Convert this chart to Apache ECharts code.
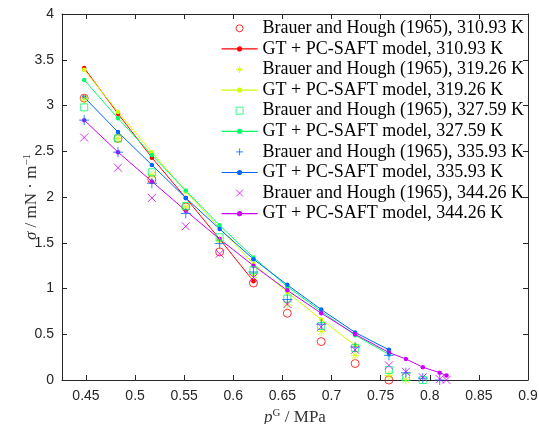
<!DOCTYPE html>
<html>
<head>
<meta charset="utf-8">
<script src="https://cdn.jsdelivr.net/npm/echarts@6/dist/echarts.min.js"></script>
<style>html,body{margin:0;padding:0;background:#fff}#c{width:539px;height:424px}</style>
</head>
<body>
<div id="c"></div>
<script>
// Gas-phase pressure (MPa) at which surface tension was measured
const pressures = [0.4482, 0.4826, 0.5171, 0.5516, 0.5861, 0.6205, 0.6550, 0.6895, 0.7240, 0.7584, 0.7757, 0.7929, 0.8101, 0.8170];
// Experimental surface tension (mN/m), Brauer and Hough (1965)
const exp310 = [3.08, 2.64, 2.19, 1.89, 1.40, 1.06, 0.73, 0.42, 0.18, 0.00];
const exp319 = [3.07, 2.64, 2.24, 1.89, 1.52, 1.15, 0.82, 0.53, 0.27, 0.05, 0.00];
const exp327 = [2.98, 2.64, 2.27, 1.90, 1.56, 1.20, 0.89, 0.59, 0.35, 0.11, 0.03, 0.00];
const exp335 = [2.84, 2.49, 2.15, 1.82, 1.49, 1.18, 0.88, 0.61, 0.36, 0.27, 0.08, 0.02, 0.00];
const exp344 = [2.65, 2.32, 1.99, 1.68, 1.38, 1.12, 0.83, 0.58, 0.33, 0.16, 0.09, 0.03, 0.01, 0.00];
// GT + PC-SAFT model (mN/m)
const mod310 = [3.41, 2.91, 2.43, 1.99, 1.54, 1.08];
const mod319 = [3.39, 2.93, 2.49, 2.06, 1.66, 1.27, 0.96, 0.66, 0.38];
const mod327 = [3.28, 2.86, 2.46, 2.07, 1.69, 1.34, 1.02, 0.75, 0.49, 0.28];
const mod335 = [3.09, 2.71, 2.35, 1.99, 1.65, 1.32, 1.04, 0.77, 0.52, 0.33];
const mod344 = [2.84, 2.49, 2.17, 1.85, 1.54, 1.25, 0.98, 0.73, 0.50, 0.30, 0.23, 0.14, 0.08, 0.05];
const temps = ['310.93', '319.26', '327.59', '335.93', '344.26'];
const xTicks = [0.45, 0.5, 0.55, 0.6, 0.65, 0.7, 0.75, 0.8, 0.85, 0.9];

const colors = ['#ff0000', '#ccff00', '#00ff66', '#0066ff', '#cc00ff'];
const expSets = [exp310, exp319, exp327, exp335, exp344];
const modSets = [mod310, mod319, mod327, mod335, mod344];
const symbols = [
  'path://M10,5A5,5,0,1,1,0,5A5,5,0,1,1,10,5Z',
  'path://M5,0L5,10M0,5L10,5M1.5,1.5L8.5,8.5M8.5,1.5L1.5,8.5',
  'path://M0,0L10,0L10,10L0,10Z',
  'path://M5,0L5,10M0,5L10,5',
  'path://M0,0L10,10M10,0L0,10'
];
const symSizes = [8, 9, 7, 10, 8];
const lineIcon = 'path://M0,4L36,4M20,4A2,2,0,1,1,16,4A2,2,0,1,1,20,4Z';

const pair = arr => arr.map((v, i) => [pressures[i], v]);

const series = [];
const legendData = [];
for (let k = 0; k < 5; k++) {
  const en = 'Brauer and Hough (1965), ' + temps[k] + ' K';
  const mn = 'GT + PC-SAFT model, ' + temps[k] + ' K';
  const expStyle = { color: 'rgba(0,0,0,0)', borderColor: colors[k], borderWidth: 1 };
  legendData.push({ name: en, icon: symbols[k], itemStyle: expStyle });
  legendData.push({ name: mn, icon: lineIcon, itemStyle: { color: colors[k], borderColor: colors[k], borderWidth: 1.2 } });
  series.push({
    name: en, type: 'scatter', data: pair(expSets[k]),
    symbol: symbols[k], symbolSize: symSizes[k], symbolKeepAspect: true,
    itemStyle: expStyle, z: 3
  });
  series.push({
    name: mn, type: 'line', data: pair(modSets[k]),
    symbol: 'circle', symbolSize: 4.5, showSymbol: true,
    lineStyle: { color: colors[k], width: 1 },
    itemStyle: { color: colors[k], borderWidth: 0 },
    z: 2
  });
}

const axisCol = '#262626';
const labelFont = { color: axisCol, fontSize: 14, fontFamily: 'Liberation Sans' };
const nameStyle = { fontFamily: 'Liberation Serif', fontSize: 17, color: '#333',
  rich: { i: { fontStyle: 'italic', fontFamily: 'Liberation Serif', fontSize: 17, color: '#333' },
          sup: { fontFamily: 'Liberation Serif', fontSize: 11, color: '#333', padding: [0, 0, 9, 0] } } };
const chart = echarts.init(document.getElementById('c'), null, { renderer: 'canvas' });
chart.setOption({
  animation: false,
  backgroundColor: '#fff',
  grid: { left: 62, right: 11, top: 14, bottom: 44, containLabel: false, outerBoundsMode: 'none' },
  legend: {
    data: legendData, orient: 'vertical', left: 216, top: 13, padding: 5,
    itemWidth: 36, itemHeight: 7, itemGap: 0, symbolKeepAspect: true,
    textStyle: { fontFamily: 'Liberation Serif', fontSize: 18, color: '#000', lineHeight: 20.6 },
    backgroundColor: 'transparent', borderWidth: 0
  },
  xAxis: [{
    type: 'value', min: 0.4256, max: 0.9,
    name: '{i|p}{sup|G} / MPa', nameLocation: 'middle', nameGap: 28, nameMoveOverlap: false,
    nameTextStyle: nameStyle,
    axisLine: { show: true, onZero: false, lineStyle: { color: axisCol, width: 1 } },
    axisTick: { show: true, inside: true, length: 5, customValues: xTicks, lineStyle: { color: axisCol } },
    axisLabel: { customValues: xTicks, margin: 9, ...labelFont, formatter: v => String(+v.toFixed(2)) },
    splitLine: { show: false }
  }, {
    type: 'value', min: 0.4256, max: 0.9, position: 'top',
    axisLine: { show: true, onZero: false, lineStyle: { color: axisCol, width: 1 } },
    axisTick: { show: true, inside: true, length: 5, customValues: xTicks, lineStyle: { color: axisCol } },
    axisLabel: { show: false }, splitLine: { show: false }
  }],
  yAxis: [{
    type: 'value', min: 0, max: 4, interval: 0.5,
    name: '{i|σ} / mN · m{sup|−1}', nameLocation: 'middle', nameGap: 20, nameRotate: 90, nameMoveOverlap: false,
    nameTextStyle: nameStyle,
    axisLine: { show: true, onZero: false, lineStyle: { color: axisCol, width: 1 } },
    axisTick: { show: true, inside: true, length: 5, lineStyle: { color: axisCol } },
    axisLabel: { margin: 8, ...labelFont, formatter: v => String(v) },
    splitLine: { show: false }
  }, {
    type: 'value', min: 0, max: 4, interval: 0.5, position: 'right',
    axisLine: { show: true, onZero: false, lineStyle: { color: axisCol, width: 1 } },
    axisTick: { show: true, inside: true, length: 5, lineStyle: { color: axisCol } },
    axisLabel: { show: false }, splitLine: { show: false }
  }],
  series: series
});
</script>
</body>
</html>
